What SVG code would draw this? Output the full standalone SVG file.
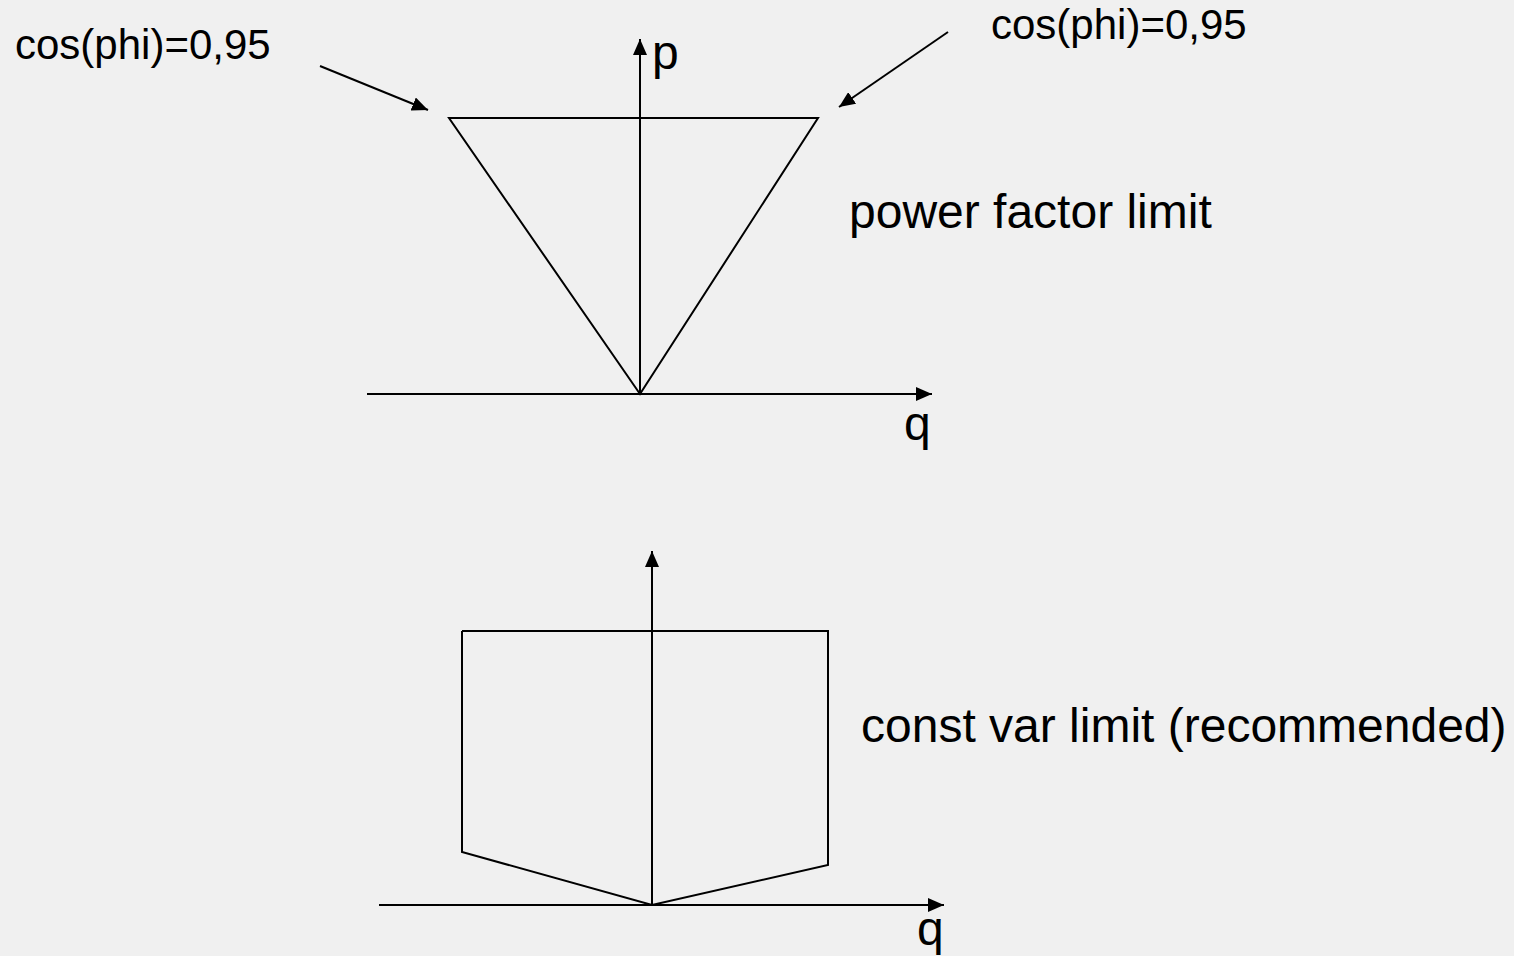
<svg xmlns="http://www.w3.org/2000/svg" width="1514" height="956" viewBox="0 0 1514 956">
<style>
.ln{stroke:#000;stroke-width:2;fill:none}
.t{font-family:"Liberation Sans",Arial,sans-serif;fill:#000}
.big{font-size:48px}
.sm{font-size:42px}
</style>
<defs>
<marker id="ah" viewBox="0 0 16 14" refX="16" refY="7" markerWidth="16" markerHeight="14" markerUnits="userSpaceOnUse" orient="auto">
<path d="M0,0 L16,7 L0,14 Z" fill="#000"/>
</marker>
</defs>
<rect width="1514" height="956" fill="#f0f0f0"/>
<g id="top-chart">
<polygon class="ln" points="449,118 818,118 640,394"/>
</g>
<g id="bottom-chart">
<polyline class="ln" points="462,631 462,852 652,905 828,865 828,631 462,631"/>
</g>
<g id="connectors">
<line class="ln" x1="640" y1="394" x2="640" y2="39" marker-end="url(#ah)"/>
<line class="ln" x1="367" y1="394" x2="932" y2="394" marker-end="url(#ah)"/>
<line class="ln" x1="652" y1="905" x2="652" y2="551" marker-end="url(#ah)"/>
<line class="ln" x1="379" y1="905" x2="944" y2="905" marker-end="url(#ah)"/>
<line class="ln" x1="320" y1="66" x2="428" y2="110" marker-end="url(#ah)"/>
<line class="ln" x1="948" y1="32" x2="839" y2="107" marker-end="url(#ah)"/>
</g>
<g id="labels">
<text class="t sm" x="15" y="59">cos(phi)=0,95</text>
<text class="t sm" x="991" y="39">cos(phi)=0,95</text>
<text class="t big" x="652" y="69">p</text>
<text class="t big" x="904" y="440">q</text>
<text class="t big" x="917" y="945">q</text>
<text class="t big" x="849" y="228">power factor limit</text>
<text class="t big" x="861" y="742">const var limit (recommended)</text>
</g>
</svg>
